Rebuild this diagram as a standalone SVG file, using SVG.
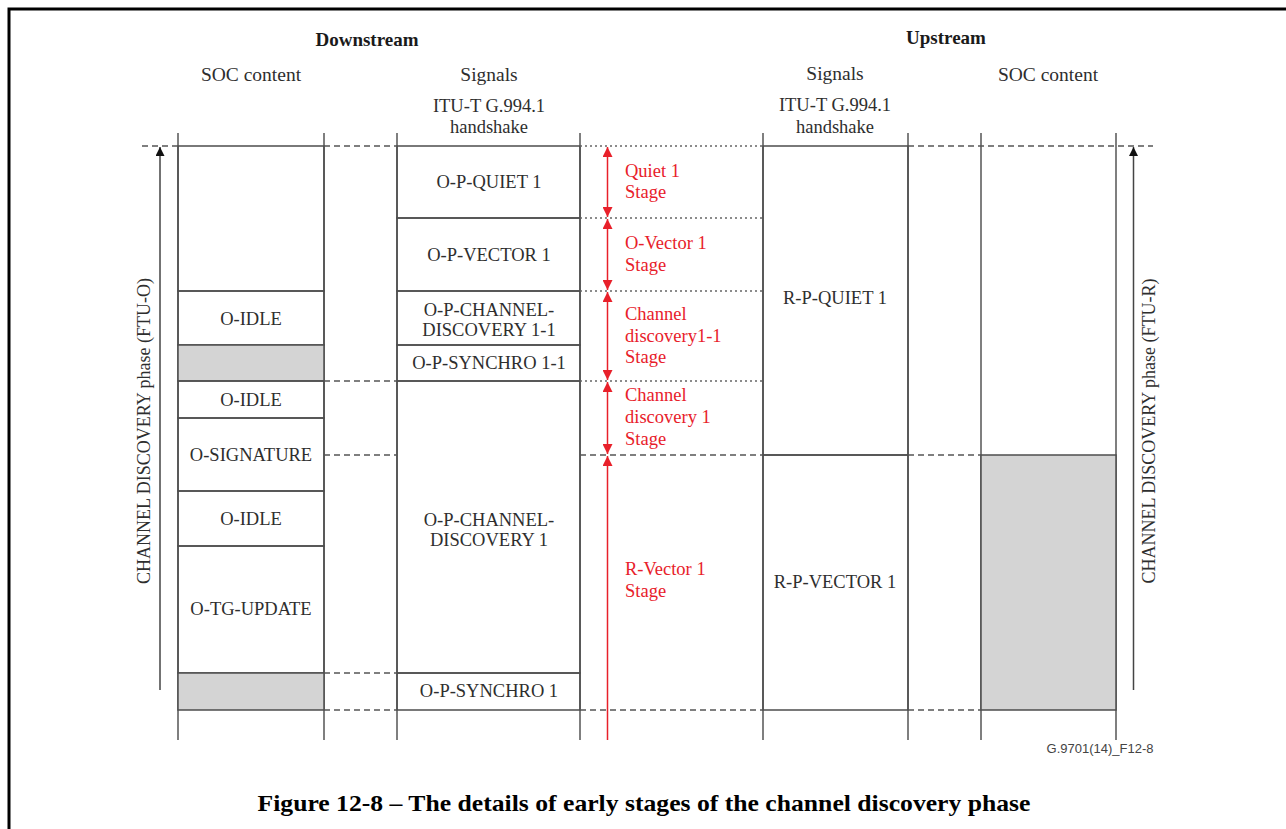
<svg xmlns="http://www.w3.org/2000/svg" width="1286" height="829" viewBox="0 0 1286 829">
  <style>
    .bg { fill: #ffffff; }
    .frame { fill: none; stroke: #000000; stroke-width: 3; }
    .box { fill: none; stroke: #4d4d4d; stroke-width: 1.5; }
    .shade { fill: #d4d4d4; stroke: #4d4d4d; stroke-width: 1.5; }
    .col { stroke: #555555; stroke-width: 1.5; fill: none; }
    .dash { stroke: #555555; stroke-width: 1.5; stroke-dasharray: 6 4; fill: none; }
    .dot { stroke: #666666; stroke-width: 1.5; stroke-dasharray: 2 3; fill: none; }
    .txt { font-family: "Liberation Serif", "Times New Roman", serif; font-size: 18.5px; fill: #2e2e2e; text-anchor: middle; }
    .vtxt { font-family: "Liberation Serif", "Times New Roman", serif; font-size: 18px; fill: #2e2e2e; text-anchor: middle; }
    .hdr { font-family: "Liberation Serif", "Times New Roman", serif; font-size: 19.5px; fill: #2e2e2e; text-anchor: middle; }
    .bold { font-family: "Liberation Serif", "Times New Roman", serif; font-size: 19px; font-weight: bold; fill: #1a1a1a; text-anchor: middle; }
    .red { font-family: "Liberation Serif", "Times New Roman", serif; font-size: 18.5px; fill: #e8202a; }
    .redline { stroke: #e8202a; stroke-width: 1.5; fill: none; }
    .axis { stroke: #444444; stroke-width: 1.5; fill: none; }
    .cap { font-family: "Liberation Serif", "Times New Roman", serif; font-size: 24px; font-weight: bold; fill: #000000; text-anchor: middle; }
    .ref { font-family: "Liberation Sans", Arial, sans-serif; font-size: 13px; fill: #444444; text-anchor: middle; }
  </style>
  <defs>
    <marker id="blackHead" viewBox="0 0 10 10" refX="10" refY="5" markerWidth="9" markerHeight="9" markerUnits="userSpaceOnUse" orient="auto">
      <path d="M0,0 L10,5 L0,10 Z" fill="#111111"/>
    </marker>
    <marker id="redHead" viewBox="0 0 10 10" refX="10" refY="5" markerWidth="10" markerHeight="10" markerUnits="userSpaceOnUse" orient="auto-start-reverse">
      <path d="M0,0 L10,5 L0,10 Z" fill="#e8202a"/>
    </marker>
  </defs>

  <rect class="bg" x="0" y="0" width="1286" height="829"/>
  <!-- page frame -->
  <rect class="frame" x="9" y="9" width="1300" height="840"/>

  <!-- column headings -->
  <g id="headings">
    <text class="bold" x="367" y="46">Downstream</text>
    <text class="bold" x="946" y="44">Upstream</text>
    <text class="hdr" x="251" y="81">SOC content</text>
    <text class="hdr" x="489" y="81">Signals</text>
    <text class="txt" x="489" y="112">ITU-T G.994.1</text>
    <text class="txt" x="489" y="133">handshake</text>
    <text class="hdr" x="835" y="80">Signals</text>
    <text class="txt" x="835" y="111">ITU-T G.994.1</text>
    <text class="txt" x="835" y="133">handshake</text>
    <text class="hdr" x="1048" y="81">SOC content</text>
  </g>

  <!-- column boundaries -->
  <g id="columns">
    <line class="col" x1="178" y1="133" x2="178" y2="740"/>
    <line class="col" x1="324" y1="133" x2="324" y2="740"/>
    <line class="col" x1="397" y1="133" x2="397" y2="740"/>
    <line class="col" x1="580" y1="133" x2="580" y2="740"/>
    <line class="col" x1="763" y1="133" x2="763" y2="740"/>
    <line class="col" x1="908" y1="133" x2="908" y2="740"/>
    <line class="col" x1="981" y1="133" x2="981" y2="740"/>
    <line class="col" x1="1116" y1="133" x2="1116" y2="740"/>
  </g>

  <!-- downstream SOC content -->
  <g id="ds-soc-top"><rect class="box" x="178" y="146" width="146" height="145"/></g>
  <g id="ds-idle-1"><rect class="box" x="178" y="291" width="146" height="54"/><text class="txt" x="251" y="325">O-IDLE</text></g>
  <g id="ds-gap-1"><rect class="shade" x="178" y="345" width="146" height="36"/></g>
  <g id="ds-idle-2"><rect class="box" x="178" y="381" width="146" height="37"/><text class="txt" x="251" y="406">O-IDLE</text></g>
  <g id="ds-signature"><rect class="box" x="178" y="418" width="146" height="73"/><text class="txt" x="251" y="461">O-SIGNATURE</text></g>
  <g id="ds-idle-3"><rect class="box" x="178" y="491" width="146" height="55"/><text class="txt" x="251" y="525">O-IDLE</text></g>
  <g id="ds-tg-update"><rect class="box" x="178" y="546" width="146" height="127"/><text class="txt" x="251" y="615">O-TG-UPDATE</text></g>
  <g id="ds-gap-2"><rect class="shade" x="178" y="673" width="146" height="37"/></g>

  <!-- downstream signals -->
  <g id="op-quiet1"><rect class="box" x="397" y="146" width="183" height="72"/><text class="txt" x="489" y="188">O-P-QUIET 1</text></g>
  <g id="op-vector1"><rect class="box" x="397" y="218" width="183" height="73"/><text class="txt" x="489" y="261">O-P-VECTOR 1</text></g>
  <g id="op-cd11"><rect class="box" x="397" y="291" width="183" height="54"/><text class="txt" x="489" y="316">O-P-CHANNEL-</text><text class="txt" x="489" y="336">DISCOVERY 1-1</text></g>
  <g id="op-synchro11"><rect class="box" x="397" y="345" width="183" height="36"/><text class="txt" x="489" y="369">O-P-SYNCHRO 1-1</text></g>
  <g id="op-cd1"><rect class="box" x="397" y="381" width="183" height="292"/><text class="txt" x="489" y="526">O-P-CHANNEL-</text><text class="txt" x="489" y="546">DISCOVERY 1</text></g>
  <g id="op-synchro1"><rect class="box" x="397" y="673" width="183" height="37"/><text class="txt" x="489" y="697">O-P-SYNCHRO 1</text></g>

  <!-- upstream signals -->
  <g id="rp-quiet1"><rect class="box" x="763" y="146" width="145" height="309"/><text class="txt" x="835" y="304">R-P-QUIET 1</text></g>
  <g id="rp-vector1"><rect class="box" x="763" y="455" width="145" height="255"/><text class="txt" x="835" y="588">R-P-VECTOR 1</text></g>

  <!-- upstream SOC content -->
  <g id="us-soc-gap"><rect class="shade" x="981" y="455" width="135" height="255"/></g>

  <!-- stage labels -->
  <g id="stage-quiet1"><text class="red" x="625" y="177">Quiet 1</text><text class="red" x="625" y="198">Stage</text></g>
  <g id="stage-ovector1"><text class="red" x="625" y="249">O-Vector 1</text><text class="red" x="625" y="271">Stage</text></g>
  <g id="stage-cd11"><text class="red" x="625" y="320">Channel</text><text class="red" x="625" y="342">discovery1-1</text><text class="red" x="625" y="363">Stage</text></g>
  <g id="stage-cd1"><text class="red" x="625" y="401">Channel</text><text class="red" x="625" y="423">discovery 1</text><text class="red" x="625" y="445">Stage</text></g>
  <g id="stage-rvector1"><text class="red" x="625" y="575">R-Vector 1</text><text class="red" x="625" y="597">Stage</text></g>

  <!-- phase axes -->
  <g id="phase-ftu-o">
    <text class="vtxt" transform="translate(150,431) rotate(-90)" x="0" y="0">CHANNEL DISCOVERY phase (FTU-O)</text>
  </g>
  <g id="phase-ftu-r">
    <text class="vtxt" transform="translate(1155,431) rotate(-90)" x="0" y="0">CHANNEL DISCOVERY phase (FTU-R)</text>
  </g>

  <!-- connectors: time boundaries and arrows -->
  <g id="connectors">
    <!-- top boundary -->
    <line class="dash" x1="142" y1="146" x2="178" y2="146"/>
    <line class="dash" x1="324" y1="146" x2="397" y2="146"/>
    <line class="dot" x1="580" y1="146" x2="763" y2="146"/>
    <line class="dash" x1="908" y1="146" x2="1153" y2="146"/>
    <!-- stage boundaries -->
    <line class="dot" x1="580" y1="218" x2="763" y2="218"/>
    <line class="dot" x1="580" y1="291" x2="763" y2="291"/>
    <line class="dash" x1="324" y1="381" x2="397" y2="381"/>
    <line class="dot" x1="580" y1="381" x2="763" y2="381"/>
    <line class="dash" x1="324" y1="455" x2="397" y2="455"/>
    <line class="dash" x1="580" y1="455" x2="763" y2="455"/>
    <line class="dash" x1="908" y1="455" x2="981" y2="455"/>
    <line class="dash" x1="324" y1="673" x2="397" y2="673"/>
    <line class="dash" x1="324" y1="710" x2="397" y2="710"/>
    <line class="dash" x1="580" y1="710" x2="763" y2="710"/>
    <line class="dash" x1="908" y1="710" x2="981" y2="710"/>
    <!-- stage duration arrows -->
    <line class="redline" x1="607.5" y1="147" x2="607.5" y2="217" marker-start="url(#redHead)" marker-end="url(#redHead)"/>
    <line class="redline" x1="607.5" y1="219" x2="607.5" y2="290" marker-start="url(#redHead)" marker-end="url(#redHead)"/>
    <line class="redline" x1="607.5" y1="292" x2="607.5" y2="380" marker-start="url(#redHead)" marker-end="url(#redHead)"/>
    <line class="redline" x1="607.5" y1="382" x2="607.5" y2="454" marker-start="url(#redHead)" marker-end="url(#redHead)"/>
    <line class="redline" x1="607.5" y1="456" x2="607.5" y2="740" marker-start="url(#redHead)"/>
    <!-- phase arrows -->
    <line class="axis" x1="160" y1="690" x2="160" y2="147" marker-end="url(#blackHead)"/>
    <line class="axis" x1="1133.5" y1="690" x2="1133.5" y2="147" marker-end="url(#blackHead)"/>
  </g>

  <!-- figure reference and caption -->
  <text class="ref" x="1100" y="753">G.9701(14)_F12-8</text>
  <text class="cap" x="644" y="811" textLength="773" lengthAdjust="spacingAndGlyphs">Figure 12-8 – The details of early stages of the channel discovery phase</text>
</svg>
